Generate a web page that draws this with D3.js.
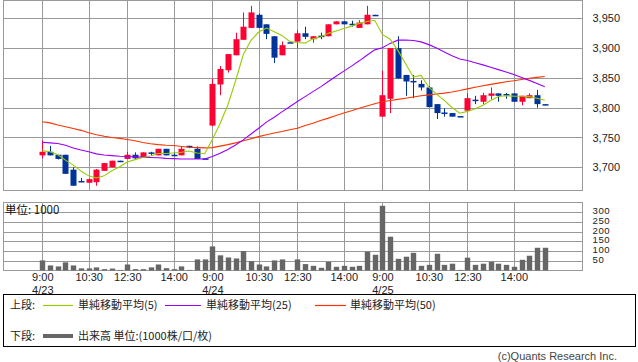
<!DOCTYPE html>
<html><head><meta charset="utf-8">
<script src="https://cdn.jsdelivr.net/npm/d3@7/dist/d3.min.js"></script>
<style>body{margin:0;background:#fff}svg{display:block}</style>
</head><body>
<svg id="c" width="638" height="362"></svg>
<script>
// ---------- data ----------
const days = ["4/23", "4/24", "4/25"];
const sessionTimes = ["9:00","9:15","9:30","9:45","10:00","10:15","10:30","10:45","11:00","11:15","11:30",
                      "12:30","12:45","13:00","13:15","13:30","13:45","14:00","14:15","14:30","14:45","15:00"];
const timeTickLabels = ["9:00", "10:30", "12:30", "14:00"];
const priceTicks = [3700, 3750, 3800, 3850, 3900, 3950];
const volumeTicks = [50, 100, 150, 200, 250, 300];

const open  = [3720,3726,3721,3721,3696,3677,3674,3675,3694,3700,3711,3714,3721,3716,3725,3720,3731,3721,3720,3736,3731,3715,
               3770,3839,3863,3888,3914,3934,3956,3940,3920,3888,3910,3911,3925,3915,3921,3920,3940,3945,3941,3934,3940,3956,
               3785,3815,3900,3855,3845,3840,3834,3806,3792,3791,3786,3795,3813.5,3810,3820,3824,3823,3824,3810,3816,3821,3806];
const high  = [3745,3736,3721,3721,3700,3682,3681,3697,3707,3711,3711,3726,3725,3725,3726,3731,3731,3725,3735,3736,3735,3715,
               3849,3870,3890,3926,3960,3971,3958,3940,3920,3911,3910,3930,3936,3920,3926,3940,3945,3945,3946,3947,3971,3956,
               3862,3900,3920,3855,3855,3846,3836,3806,3799,3791,3786,3824,3820,3825,3834,3824,3825,3824,3820,3824,3830,3806];
const low   = [3715,3720,3713,3689,3669,3675,3674,3669,3694,3700,3710,3714,3714,3716,3720,3720,3720,3720,3720,3732,3714,3714,
               3769,3821,3859,3888,3914,3934,3934,3915,3875,3888,3909,3900,3915,3909,3915,3920,3940,3940,3936,3934,3940,3955,
               3785,3791,3849,3820,3816,3829,3801,3781,3785,3785,3786,3795,3806,3806,3814,3810,3815,3810,3804,3816,3800,3805];
const close = [3726,3720,3714,3689,3669,3676,3680,3696,3707,3711,3710,3721,3715,3725,3724,3731,3720,3720,3731,3735,3714,3714,
               3840,3865,3890,3915,3936,3960,3934,3924,3884,3905,3909,3925,3919,3920,3920,3940,3945,3940,3940,3943,3956,3955,
               3821,3900,3849,3844,3844,3834,3801,3791,3791,3785,3786,3816,3813,3821,3824,3820,3822,3810,3820,3821,3806,3805];
const volume = [52,26,21,42,26,11,11,16,7,10,3,31,7,7,16,31,12,7,21,3,57,57,
                124,78,67,62,100,48,31,21,52,57,2,57,33,24,14,45,19,24,19,24,97,81,
                333,174,60,71,91,24,29,86,29,35,3,66,29,35,45,35,29,19,55,76,117,117];

// moving-average values before enough bars are on the chart
const ma5Lead  = [3728,3726,3721,3712];
const ma25Lead = [3742,3741,3740,3737,3732.5,3729,3726,3722.5,3720.5,3719.5,3718.5,3718,3717.5,3717,3716.5,3716,3715,3714.5,3714,3714,3714,3714,3718,3723.5];
const ma50Lead = [3776.5,3774.5,3771,3768,3765,3762,3758,3754.5,3752,3750,3748.5,3746.5,3744.5,3741.5,3739.5,3738,3737,3736.5,3735,3733.5,3733,3732.5,
                  3733,3735.5,3738,3741,3744.5,3748,3751.5,3754.5,3757.5,3760,3763,3765.5,3770,3774,3778.5,3782.5,3787,3791,3795,3799,3803,3806.5,
                  3810,3812,3814,3816,3818];

// ---------- derived ----------
const n = close.length;
const idx = d3.range(n);
const timeOf = i => sessionTimes[i % sessionTimes.length];
function sma(period, lead) {
  return close.map((c, i) => i < lead.length ? lead[i] : d3.mean(close.slice(i - period + 1, i + 1)));
}
const ma5 = sma(5, ma5Lead), ma25 = sma(25, ma25Lead), ma50 = sma(50, ma50Lead);
const gridIdx = idx.filter(i => timeTickLabels.includes(timeOf(i)));
const dayIdx = days.map((d, k) => k * sessionTimes.length);

// ---------- layout ----------
const L = 3.5, R = 582.5;
const P = {top: 0.5, bottom: 190.5};
const V = {top: 202.5, bottom: 270.5};

const svg = d3.select("#c");
const x = d3.scaleLinear().domain([0, n - 1]).range([42.3, 42.3 + 7.73 * (n - 1)]);
const y = d3.scaleLinear().domain([3661, 3980]).range([P.bottom, P.top]);
const yv = d3.scaleLinear().domain([0, 350]).range([V.bottom, V.top]);
const crisp = v => Math.round(v) + 0.5;

const grid = svg.append("g").attr("stroke", "#999").attr("stroke-width", 1).attr("fill", "none");
grid.selectAll(".hp").data(priceTicks).join("line")
  .attr("x1", L).attr("x2", R).attr("y1", d => crisp(y(d))).attr("y2", d => crisp(y(d)));
grid.selectAll(".hv").data(volumeTicks).join("line").attr("class", "hv")
  .attr("x1", L).attr("x2", R).attr("y1", d => crisp(yv(d))).attr("y2", d => crisp(yv(d)));
[[P.top, P.bottom], [V.top, V.bottom]].forEach(([t, b]) => {
  grid.append("g").selectAll("line").data(gridIdx).join("line")
    .attr("x1", d => crisp(x(d))).attr("x2", d => crisp(x(d))).attr("y1", t).attr("y2", b);
  grid.append("rect").attr("x", L).attr("y", t).attr("width", R - L).attr("height", b - t);
});

// ---------- candles ----------
const UP = "#ff0033", DN = "#003399";
const cw = 6;
const cand = svg.append("g").selectAll("g").data(idx).join("g")
  .attr("fill", i => close[i] > open[i] ? UP : DN)
  .attr("stroke", i => close[i] > open[i] ? UP : DN);
cand.append("line")
  .attr("x1", i => Math.round(x(i)) + 0.5).attr("x2", i => Math.round(x(i)) + 0.5)
  .attr("y1", i => y(high[i])).attr("y2", i => y(low[i])).attr("stroke-width", 1);
cand.append("rect")
  .attr("stroke", "none")
  .attr("x", i => Math.round(x(i)) + 0.5 - cw / 2)
  .attr("width", cw)
  .attr("y", i => Math.min(y(open[i]), y(close[i])))
  .attr("height", i => Math.max(1.5, Math.abs(y(open[i]) - y(close[i]))));

// ---------- moving averages ----------
const line = d3.line().x((d, i) => x(i)).y(d => y(d));
[[ma50, "#ff3300"], [ma25, "#9900ff"], [ma5, "#99cc00"]].forEach(([s, c]) => {
  svg.append("path").datum(s).attr("d", line).attr("fill", "none").attr("stroke", c).attr("stroke-width", 1.1);
});

// ---------- volume ----------
svg.append("g").attr("fill", "#666").selectAll("rect").data(idx).join("rect")
  .attr("x", i => Math.round(x(i)) + 0.5 - 2.7).attr("width", 5.4)
  .attr("y", i => yv(volume[i])).attr("height", i => V.bottom - yv(volume[i]));

// ---------- axes ----------
const numFont = "'Liberation Sans', Arial, sans-serif";
const jpFont = "'Noto Sans CJK JP', sans-serif";
function styleAxis(size, spacing) {
  return g => {
    g.select(".domain").remove();
    g.selectAll("text").attr("fill", "#222").style("font-family", numFont)
      .style("font-size", size + "px").style("letter-spacing", (spacing || 0) + "px");
  };
}
svg.append("g").attr("transform", `translate(${R},0)`)
  .call(d3.axisRight(y).tickValues(priceTicks).tickFormat(d3.format(",")).tickSize(0).tickPadding(10))
  .call(styleAxis(11));
svg.append("g").attr("transform", `translate(${R},-1.5)`)
  .call(d3.axisRight(yv).tickValues(volumeTicks).tickSize(0).tickPadding(10))
  .call(styleAxis(9.6, 0.6));
svg.append("g").attr("transform", `translate(0,${V.bottom})`)
  .call(d3.axisBottom(x).tickValues(gridIdx).tickFormat(timeOf).tickSize(0).tickPadding(3))
  .call(styleAxis(11));
svg.append("g").attr("transform", `translate(0,${V.bottom})`)
  .call(d3.axisBottom(x).tickValues(dayIdx).tickFormat((d, k) => days[k]).tickSize(0).tickPadding(16))
  .call(styleAxis(11));

svg.append("text").attr("x", 5).attr("y", 213.5).text("単位: 1000")
  .attr("fill", "#111").style("font-family", jpFont).style("font-size", "11.5px");

// ---------- legend ----------
svg.append("rect").attr("x", 3.5).attr("y", 294.5).attr("width", 632).attr("height", 52)
  .attr("fill", "none").attr("stroke", "#000").attr("stroke-width", 1);
const lg = svg.append("g").style("font-family", jpFont).style("font-size", "11px").attr("fill", "#222");
const legendItems = [
  {label: "単純移動平均(5)", color: "#99cc00", x1: 43, x2: 73, tx: 78},
  {label: "単純移動平均(25)", color: "#9900ff", x1: 165, x2: 201, tx: 206},
  {label: "単純移動平均(50)", color: "#ff3300", x1: 315, x2: 346, tx: 350}
];
lg.append("text").attr("x", 10).attr("y", 309).text("上段:");
legendItems.forEach(d => {
  lg.append("line").attr("x1", d.x1).attr("x2", d.x2).attr("y1", 305.5).attr("y2", 305.5)
    .attr("stroke", d.color).attr("stroke-width", 1.2);
  lg.append("text").attr("x", d.tx).attr("y", 309).text(d.label);
});
lg.append("text").attr("x", 10).attr("y", 340).text("下段:");
lg.append("line").attr("x1", 43).attr("x2", 73).attr("y1", 336).attr("y2", 336)
  .attr("stroke", "#666").attr("stroke-width", 4);
lg.append("text").attr("x", 78).attr("y", 340).text("出来高 単位:(1000株/口/枚)");

svg.append("text").attr("x", 617).attr("y", 360).attr("text-anchor", "end")
  .text("(c)Quants Research Inc.").attr("fill", "#444")
  .style("font-family", numFont).style("font-size", "11px");
</script>
</body></html>
